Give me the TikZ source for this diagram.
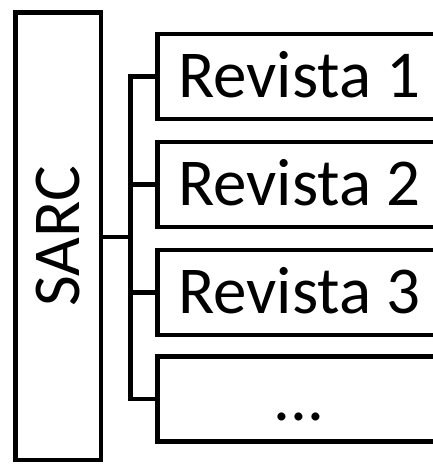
\documentclass[tikz,border=0pt]{standalone}
\usepackage{fontspec}
\setmainfont{Carlito}
\begin{document}
\begin{tikzpicture}[x=1pt,y=-1pt,line width=4.5pt,
  bigtext/.style={font=\fontsize{67}{80}\selectfont},
  revbox/.style={draw=black, rectangle, bigtext, inner sep=0pt, outer sep=0pt,
    minimum width=283.5pt, minimum height=85pt, text height=42pt, text depth=0pt},
  sarcbox/.style={draw=black, rectangle, bigtext, inner sep=0pt, outer sep=0pt,
    minimum width=85.5pt, minimum height=447.5pt},
  link/.style={draw=black, line width=4.5pt}]
\useasboundingbox (0,0) rectangle (433,464);
\clip (0,0) rectangle (433,464);
\node[sarcbox] (sarc) at (58.25,236.25) {\rotatebox{90}{\vrule width 0pt height 42pt depth 0pt SARC}};
\node[revbox] (r1) at (299.25,76.5) {Revista 1};
\node[revbox] (r2) at (299.25,184.5) {Revista 2};
\node[revbox] (r3) at (299.25,292.5) {Revista 3};
\node[revbox] (r4) at (299.25,399) {...};
\coordinate (trunk) at (130.5,237);
\draw[link] (sarc.east |- trunk) -- (trunk);
\draw[link] (r1.west) -- (trunk |- r1.west) -- (trunk |- r4.west) -- (r4.west);
\draw[link] (r2.west) -- (trunk |- r2.west);
\draw[link] (r3.west) -- (trunk |- r3.west);
\end{tikzpicture}
\end{document}
